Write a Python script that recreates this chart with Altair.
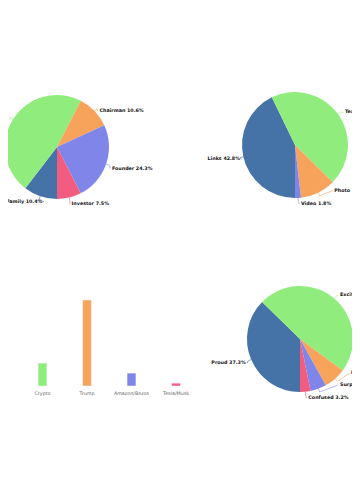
import math
import pandas as pd
import altair as alt

# ---------------- data ----------------
role_cats = ["Parent/Family", "CEO", "Chairman", "Founder", "Investor"]
role_vals = [10.4, 47.1, 10.6, 24.3, 7.5]

media_cats = ["Links", "Text-only", "Photo", "Video"]
media_vals = [42.8, 44.6, 10.8, 1.8]

mood_cats = ["Proud", "Excited", "Impressed", "Surprised", "Confused"]
mood_vals = [37.3, 47.8, 6.8, 4.9, 3.2]

topic_cats = ["Market", "Crypto", "Trump", "Amazon/Bezos", "Tesla/Musk"]
topic_vals = [5, 16, 60, 9, 2]

# ---------------- style / layout ----------------
palette = ["#4572a7", "#90ed7d", "#f7a35c", "#8085e9", "#f15c80"]
W, H = 344, 484
OFF = 8  # page margin
FONT = "DejaVu Sans"

# pie layouts: centre (page coords), radius, label nudges (dx, dy)
pies = [
    dict(cats=role_cats, vals=role_vals, cx=57, cy=147, r=52,
         nudge=[(5.1, -1.2), (1.4, 4.5), (-1.0, 5.0), (-1.6, 2.2), (0.0, -0.3)]),
    dict(cats=media_cats, vals=media_vals, cx=295, cy=145, r=53,
         nudge=[(4.3, 0.8), (0.4, 2.3), (12.3, -8.3), (1.8, -0.9)]),
    dict(cats=mood_cats, vals=mood_vals, cx=300, cy=339, r=53,
         nudge=[(1.8, 1.0), (0.4, 1.7), (10.5, -10.7), (18.3, -10.3), (1.5, -0.4)]),
]

px_x = alt.Scale(domain=[0, W], range=[0, W], nice=False, zero=False)
px_y = alt.Scale(domain=[0, H], range=[0, H], nice=False, zero=False)

layers = []
conn_rows = []
lab_rows = []

for p_i, p in enumerate(pies):
    cats, vals = p["cats"], p["vals"]
    n = len(cats)
    cols = palette[:n]
    df = pd.DataFrame({"cat": cats, "v": vals, "idx": list(range(n))})
    arc = alt.Chart(df).mark_arc(radius=p["r"]).encode(
        theta=alt.Theta("v:Q", stack=True,
                        scale=alt.Scale(range=[math.pi, 3 * math.pi])),
        color=alt.Color("cat:N", scale=alt.Scale(domain=cats, range=cols), legend=None),
        order=alt.Order("idx:Q"),
        x=alt.value(p["cx"] - OFF),
        y=alt.value(p["cy"] - OFF),
    )
    layers.append(arc)

    total = sum(vals)
    cum = 0.0
    cx, cy, r = p["cx"] - OFF, p["cy"] - OFF, p["r"]
    for i, (c, v) in enumerate(zip(cats, vals)):
        mid = math.pi + 2 * math.pi * (cum + v / 2) / total
        cum += v
        s, co = math.sin(mid), math.cos(mid)
        ax = cx + (r + 7) * s + p["nudge"][i][0]
        ay = cy - (r + 7) * co + p["nudge"][i][1]
        right = s >= 0
        sign = 1 if right else -1
        key = f"{p_i}-{i}"
        pts = [
            (cx + r * s, cy - r * co),
            (cx + (r + 3.5) * s, cy - (r + 3.5) * co),
            (ax - sign * 0.8, ay),
        ]
        for k, (x, y) in enumerate(pts):
            conn_rows.append({"key": key, "k": k, "px": x, "py": y, "col": cols[i]})
        lab_rows.append({"px": ax + sign * 0.8, "py": ay,
                         "text": f"{c} {v:.1f}%", "side": "L" if right else "R"})

conn_df = pd.DataFrame(conn_rows)
lab_df = pd.DataFrame(lab_rows)

connectors = alt.Chart(conn_df).mark_line(strokeWidth=0.6).encode(
    x=alt.X("px:Q", scale=px_x, axis=None),
    y=alt.Y("py:Q", scale=px_y, axis=None),
    detail="key:N",
    order="k:Q",
    color=alt.Color("col:N", scale=None),
)
layers.append(connectors)

for side, align in (("L", "left"), ("R", "right")):
    t = alt.Chart(lab_df).transform_filter(alt.datum.side == side).mark_text(
        align=align, baseline="middle", font=FONT, fontSize=4.8,
        fontWeight="bold", color="#111111",
    ).encode(
        x=alt.X("px:Q", scale=px_x, axis=None),
        y=alt.Y("py:Q", scale=px_y, axis=None),
        text="text:N",
    )
    layers.append(t)

# ---------------- bar panel ----------------
bar_df = pd.DataFrame({"cat": topic_cats, "v": topic_vals})
step = 44.5
c0 = -2 - OFF
band_x = alt.Scale(domain=topic_cats, range=[c0 - step / 2, c0 + (len(topic_cats) - 0.5) * step],
                   paddingInner=0.8, paddingOuter=0.4)
base_y = 386 - OFF
top_y = 300 - OFF
bar_y = alt.Scale(domain=[0, max(topic_vals)], range=[base_y, top_y], nice=False, zero=True)

bars = alt.Chart(bar_df).mark_bar(stroke="white", strokeWidth=0.5).encode(
    x=alt.X("cat:N", scale=band_x, axis=None),
    y=alt.Y("v:Q", scale=bar_y, axis=None),
    color=alt.Color("cat:N", scale=alt.Scale(domain=topic_cats, range=palette), legend=None),
)
bar_labels = alt.Chart(bar_df).mark_text(
    baseline="middle", font=FONT, fontSize=4.8, color="#666666",
).encode(
    x=alt.X("cat:N", scale=band_x, axis=None),
    y=alt.value(394 - OFF),
    text="cat:N",
)
layers += [bars, bar_labels]

chart = alt.layer(*layers).resolve_scale(
    x="independent", y="independent", color="independent", theta="independent"
).properties(
    width=W, height=H, autosize=alt.AutoSizeParams(type="none"), padding=0,
    background="white",
).configure_view(stroke=None)

chart.save("out.html", embed_options={"renderer": "svg", "actions": False})
